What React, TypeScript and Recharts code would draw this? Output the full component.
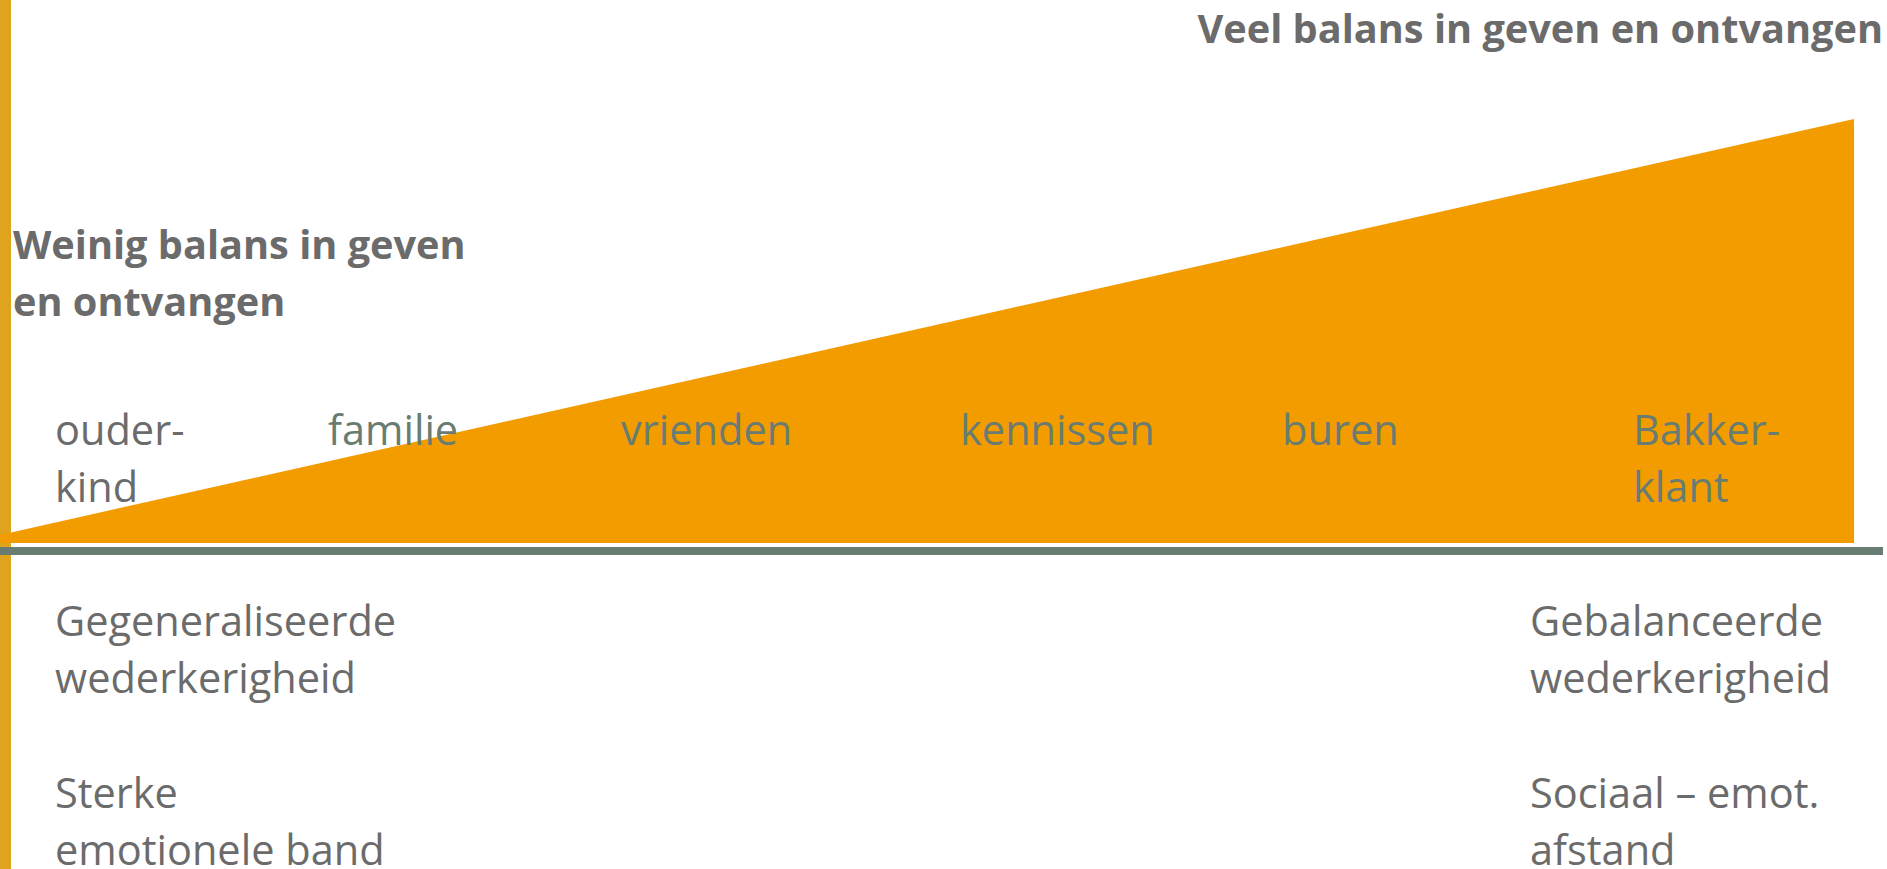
import React from 'react';
import { ComposedChart, Area, XAxis, YAxis, Customized } from 'recharts';

// continuum of relations: position along axis (0..100) and amount of balance in giving/receiving
const continuumPos = [0, 100];
const balansValues = [1.9, 100];

// relation categories placed along the continuum
const relationLines = [['ouder-', 'kind'], ['familie'], ['vrienden'], ['kennissen'], ['buren'], ['Bakker-', 'klant']];
const relationPos = [2.97, 17.69, 33.5, 51.78, 69.15, 88.08];

const leftTitle = ['Weinig balans in geven', 'en ontvangen'];
const rightTitle = ['Veel balans in geven en ontvangen'];
const leftNotes = ['Gegeneraliseerde', 'wederkerigheid', 'Sterke', 'emotionele band'];
const rightNotes = ['Gebalanceerde', 'wederkerigheid', 'Sociaal \u2013 emot.', 'afstand'];

const data = continuumPos.map((p, i) => ({ pos: p, balans: balansValues[i] }));

const W = 1887;
const H = 869;
const FONT = "'Open Sans', 'Noto Sans', sans-serif";
const GREY = '#6b6b6b';
const GREEN_GREY = '#697c72';
const ORANGE = '#f39c00';
const GOLD = '#e0a31d';
const FS = 41.5;
const FSB = 39.7;
const LH = 57;

const RelationTick = (props: any) => {
  const { x, payload } = props;
  const idx = relationPos.indexOf(payload.value);
  const lines = relationLines[idx] || [];
  const color = idx === 0 ? GREY : GREEN_GREY;
  return (
    <g>
      {lines.map((l, i) => (
        <text key={i} x={x} y={445 + i * LH} fill={color} fontFamily={FONT} fontSize={FS}>
          {l}
        </text>
      ))}
    </g>
  );
};

const Texts = () => (
  <g>
    {rightTitle.map((t, i) => (
      <text key={'r' + i} x={1883} y={43 + i * LH} textAnchor="end" fill={GREY} fontFamily={FONT} fontWeight={700} fontSize={FSB}>
        {t}
      </text>
    ))}
    {leftTitle.map((t, i) => (
      <text key={'l' + i} x={13} y={259 + i * LH} fill={GREY} fontFamily={FONT} fontWeight={700} fontSize={FSB}>
        {t}
      </text>
    ))}
    {leftNotes.map((t, i) => (
      <text key={'ln' + i} x={55} y={636 + (i % 2) * LH + Math.floor(i / 2) * 172} fill={GREY} fontFamily={FONT} fontSize={FS}>
        {t}
      </text>
    ))}
    {rightNotes.map((t, i) => (
      <text key={'rn' + i} x={1530} y={636 + (i % 2) * LH + Math.floor(i / 2) * 172} fill={GREY} fontFamily={FONT} fontSize={FS}>
        {t}
      </text>
    ))}
  </g>
);

export default function App() {
  return (
    <div style={{ position: 'absolute', left: 0, top: 0, width: W, height: H, overflow: 'hidden', background: '#ffffff' }}>
      <div style={{ position: 'absolute', left: 0, top: 0, width: 11, height: H, background: GOLD }} />
      <div style={{ position: 'absolute', left: 0, top: 0 }}>
        <ComposedChart width={W} height={H} data={data} margin={{ top: 119, right: 4, bottom: 288, left: 0 }}>
          <XAxis
            dataKey="pos"
            type="number"
            domain={[0, 101.56]}
            ticks={relationPos}
            interval={0}
            height={30}
            axisLine={{ stroke: GREEN_GREY, strokeWidth: 8 }}
            tickLine={false}
            tick={<RelationTick />}
          />
          <YAxis hide width={0} type="number" domain={[-1.9, 100]} />
          <Area
            type="linear"
            dataKey="balans"
            baseValue={0}
            fill={ORANGE}
            fillOpacity={1}
            stroke="none"
            isAnimationActive={false}
            dot={false}
            activeDot={false}
          />
          <Customized component={Texts} />
        </ComposedChart>
      </div>
    </div>
  );
}
